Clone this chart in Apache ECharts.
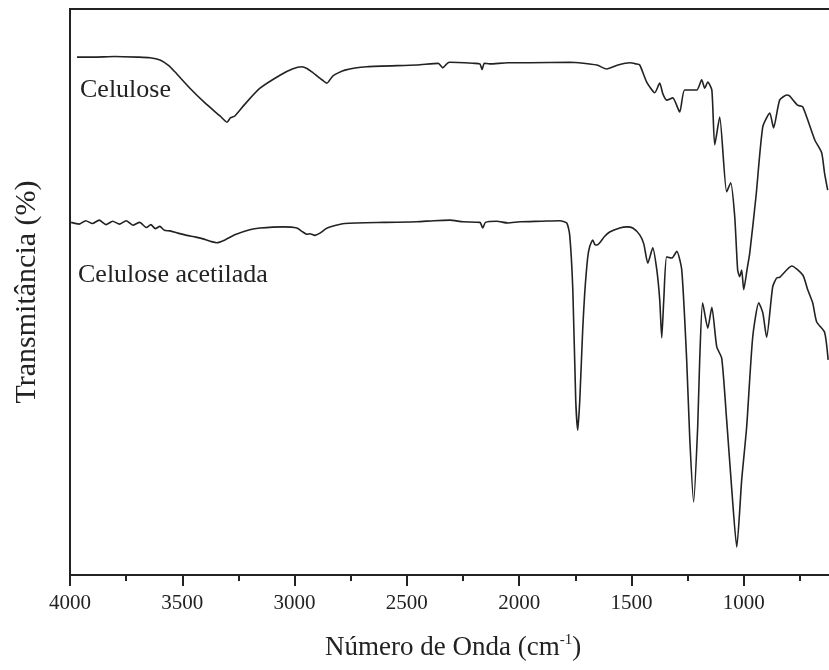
<!DOCTYPE html>
<html>
<head>
<meta charset="utf-8">
<script src="https://cdn.jsdelivr.net/npm/echarts@6/dist/echarts.min.js"></script>
<style>html,body{margin:0;padding:0;background:#fff;}#c{width:829px;height:670px;}</style>
</head>
<body>
<div id="c"></div>
<script>
// Wavenumber (cm-1) and relative transmittance (arbitrary units, 0-100)
const celuloseX = [3969,3900,3800,3700,3644,3599,3560,3533,3466,3399,3332,3301,3285,3266,3221,3154,3065,3010,2967,2945,2923,2878,2856,2829,2776,2678,2456,2360,2340,2320,2309,2200,2175,2165,2155,2131,2050,1953,1775,1654,1610,1560,1507,1480,1463,1432,1396,1374,1360,1343,1316,1285,1263,1209,1187,1174,1160,1142,1129,1107,1076,1058,1040,1027,1018,1009,1000,985,973,945,915,884,867,840,808,795,760,737,684,653,640,626];
const celuloseY = [91.5,91.5,91.6,91.5,91.4,91.0,90.0,88.9,86.0,83.4,81.1,80.0,80.8,81.1,83.2,86.0,88.3,89.4,89.8,89.5,88.9,87.5,86.9,88.2,89.2,89.8,90.1,90.4,89.6,90.4,90.6,90.4,90.3,89.3,90.4,90.3,90.5,90.5,90.6,90.1,89.4,90.1,90.5,90.3,90.1,87.1,85.2,86.9,85.0,83.9,84.3,81.8,85.7,85.7,87.5,86.0,87.1,85.7,76.0,80.9,67.7,69.3,63.3,53.9,52.7,53.9,50.4,54.0,56.9,67.0,79.2,81.6,79.0,83.9,84.8,84.6,83.0,82.7,76.9,74.6,71.0,68.0];

const acetiladaX = [3995,3960,3930,3900,3870,3840,3810,3780,3750,3720,3690,3660,3640,3620,3600,3580,3555,3520,3480,3440,3400,3370,3346,3310,3266,3200,3154,3050,2990,2963,2945,2932,2910,2887,2860,2843,2776,2600,2456,2380,2309,2250,2175,2162,2150,2100,2050,1997,1900,1819,1788,1775,1761,1748,1739,1730,1717,1708,1695,1686,1672,1663,1654,1641,1620,1597,1552,1520,1494,1463,1445,1427,1405,1387,1374,1365,1356,1343,1320,1298,1276,1254,1240,1223,1205,1196,1183,1160,1142,1120,1098,1076,1053,1031,1009,987,960,933,915,898,871,853,840,786,737,715,693,675,640,624];
const acetiladaY = [62.3,62.0,62.6,62.1,62.7,61.9,62.5,62.0,62.6,61.8,62.3,61.4,61.9,61.2,61.6,60.9,60.8,60.4,60.0,59.7,59.3,58.9,58.7,59.2,60.1,61.0,61.3,61.5,61.3,60.6,60.2,60.3,60.0,60.4,61.2,61.5,62.1,62.3,62.4,62.6,62.7,62.4,62.3,61.3,62.3,62.5,62.2,62.4,62.5,62.6,62.2,60.1,50.4,30.9,25.6,30.9,43.3,49.8,56.0,58.0,59.2,58.4,58.3,58.7,59.8,60.6,61.3,61.5,61.3,60.1,58.5,55.1,57.8,53.9,48.6,41.9,48.6,56.2,56.0,57.2,53.9,38.0,23.9,12.9,26.1,38.0,48.1,43.6,47.3,40.3,38.3,27.4,15.0,4.9,16.8,26.1,42.0,48.1,46.3,42.0,50.9,52.5,52.6,54.6,53.0,50.4,48.1,44.7,42.9,38.0];

const xTicks = [4000,3500,3000,2500,2000,1500,1000];
const labels = ['Celulose','Celulose acetilada'];

const zip = (xs, ys) => xs.map((x, i) => [x, ys[i]]);
const FONT = '"Liberation Serif", "Times New Roman", serif';

const chart = echarts.init(document.getElementById('c'), null, {renderer: 'canvas'});
chart.setOption({
  animation: false,
  backgroundColor: '#fff',
  grid: {left: 70, top: 9, width: 786, height: 566, show: true, borderColor: '#222', borderWidth: 2,
         containLabel: false, outerBoundsMode: 'none'},
  xAxis: {
    type: 'value', min: 500, max: 4000, interval: 500, inverse: true,
    axisLine: {show: true, lineStyle: {color: '#222', width: 2}},
    axisTick: {show: true, length: 11, lineStyle: {color: '#222', width: 2}},
    minorTick: {show: true, splitNumber: 2, length: 6, lineStyle: {color: '#222', width: 2}},
    splitLine: {show: false},
    axisLabel: {
      color: '#222', fontFamily: FONT, fontSize: 21, margin: 18,
      formatter: v => xTicks.includes(v) ? String(v) : ''
    }
  },
  yAxis: {
    type: 'value', min: 0, max: 100,
    name: 'Transmitância (%)', nameLocation: 'middle', nameGap: 28, nameRotate: 90,
    nameTextStyle: {color: '#222', fontFamily: FONT, fontSize: 30},
    axisLine: {show: true, lineStyle: {color: '#222', width: 2}},
    axisTick: {show: false}, axisLabel: {show: false}, splitLine: {show: false}
  },
  series: [
    {type: 'line', data: zip(celuloseX, celuloseY), showSymbol: false, smooth: 0.2,
     lineStyle: {color: '#222', width: 1.6}, clip: true},
    {type: 'line', data: zip(acetiladaX, acetiladaY), showSymbol: false, smooth: 0.2,
     lineStyle: {color: '#222', width: 1.6}, clip: true}
  ],
  graphic: [
    {type: 'text', left: 80, top: 77, style: {text: labels[0], fill: '#222', font: '26px ' + FONT}},
    {type: 'text', left: 78, top: 262, style: {text: labels[1], fill: '#222', font: '26px ' + FONT}},
    {type: 'text', left: 325, top: 633, style: {
      rich: {
        n: {fontFamily: FONT, fontSize: 27, fill: '#222', color: '#222'},
        s: {fontFamily: FONT, fontSize: 15, fill: '#222', color: '#222', verticalAlign: 'top', padding: [0,0,14,0]}
      },
      text: '{n|Número de Onda (cm}{s|-1}{n|)}'
    }}
  ]
});
</script>
</body>
</html>
